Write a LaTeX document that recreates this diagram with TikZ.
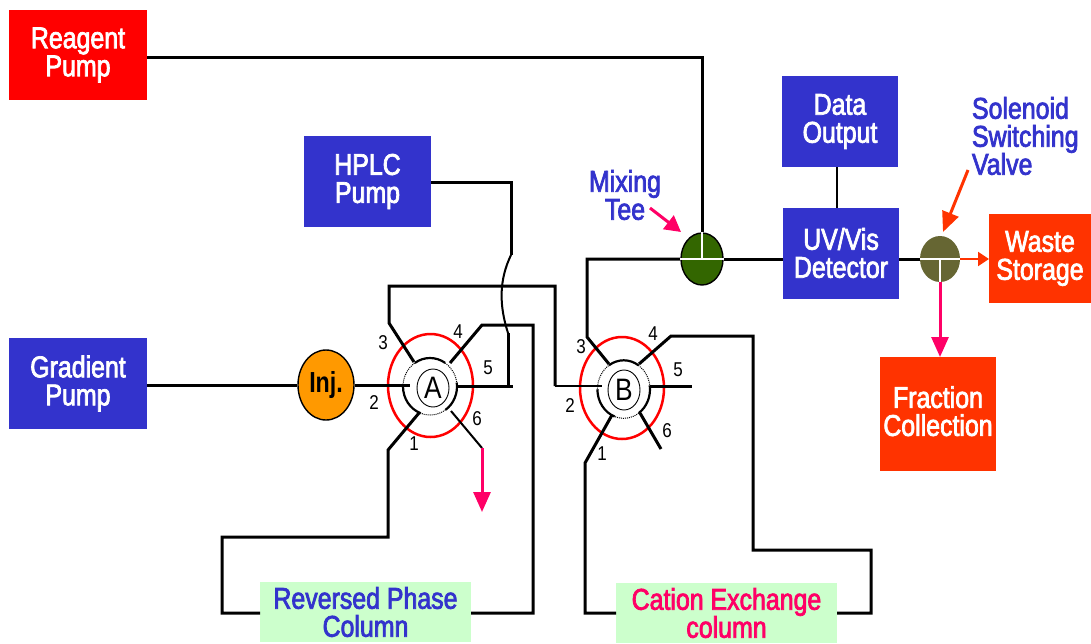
\documentclass[tikz,border=0pt]{standalone}
\usepackage{fontspec}
\setmainfont{Liberation Sans}[FakeStretch=0.83,FakeBold=2.4]
\newfontfamily\numfont{Liberation Sans}[FakeStretch=0.85]
\newfontfamily\boldnar{Liberation Sans Bold}[FakeStretch=0.8]
\usetikzlibrary{arrows.meta,shapes.geometric}
\definecolor{hplcblue}{HTML}{3333CC}
\definecolor{pumpred}{HTML}{FF0000}
\definecolor{wastered}{HTML}{FF3300}
\definecolor{injorange}{HTML}{FF9900}
\definecolor{palegreen}{HTML}{CCFFCC}
\definecolor{hotpink}{HTML}{FF0066}
\definecolor{teegreen}{HTML}{336600}
\definecolor{soleolive}{HTML}{666633}
\tikzset{
  lbl/.style={font=\fontsize{30}{28}\selectfont, align=center, inner sep=0pt, outer sep=0pt},
  bluebox/.style={lbl, fill=hplcblue, text=white, minimum width=116pt, minimum height=91pt},
  redbox/.style={lbl, fill=wastered, text=white},
  colbox/.style={lbl, fill=palegreen, minimum height=60pt},
  port/.style={font=\numfont\fontsize{20}{20}\selectfont, inner sep=0pt},
  pipe/.style={line width=3pt},
  thinpipe/.style={line width=2pt},
  ringarc/.style={line width=2.2pt},
  ringdot/.style={line width=1pt, densely dotted},
  whiteT/.style={draw=white, line width=2.4pt},
  bigarrow/.style={-{Triangle[length=20pt,width=17pt]}}
}
\begin{document}
\begin{tikzpicture}[x=1pt, y=-1pt]
            \useasboundingbox (0,0) rectangle (1091,643);
            \node(Reagent) [lbl, fill=pumpred, text=white, minimum width=138pt, minimum height=90pt] at (78,55) {Reagent\\Pump};
            \node(Gradient) [bluebox, minimum width=138pt, below of=Reagent, node distance=328.5pt] {Gradient\\Pump};
            \node(HPLC) [bluebox, minimum width=127pt] at (367.5,181.5) {HPLC\\Pump};
            \node(UV) [bluebox] at (841,253) {UV/Vis\\Detector};
            \node(Data) [bluebox, xshift=-1pt, above of=UV, node distance=131.5pt] {Data\\Output};
            \node(Waste) [redbox, minimum width=102pt, minimum height=89pt] at (1040,258.5) {Waste\\Storage};
            \node(Fraction) [redbox, minimum width=116pt, minimum height=114pt] at (938,414) {Fraction\\Collection\\[-22pt]};
            \node(RP) [colbox, minimum width=211pt, text=hplcblue] at (365.5,612) {Reversed Phase\\Column};
            \node(CX) [colbox, minimum width=221pt, text=hotpink] at (726.5,613) {Cation Exchange\\column};
            \node(Inj) [ellipse, draw=black, line width=1.4pt, fill=injorange, minimum width=56pt, minimum height=70pt, inner sep=0pt, font=\boldnar\fontsize{29}{29}\selectfont] at (326,385) {Inj.};
            \node(Tee) [ellipse, draw=black, line width=1.4pt, fill=teegreen, minimum width=42pt, minimum height=52pt, inner sep=0pt] at (702,259) {};
            \node(Sole) [ellipse, fill=soleolive, minimum width=40pt, minimum height=46pt, inner sep=0pt] at (940,259) {};
            \node(ValveA) [ellipse, draw=red, line width=2.5pt, minimum width=85pt, minimum height=103pt, inner sep=0pt] at (430.5,385.5) {};
            \node(ValveB) [ellipse, draw=red, line width=2.5pt, minimum width=84pt, minimum height=102pt, inner sep=0pt] at (622,388) {};
            \node(RotorA) [ellipse, draw=black, line width=0.9pt, minimum width=32pt, minimum height=38pt, inner sep=0pt, font=\numfont\fontsize{31}{31}\selectfont] at (433,388) {A};
            \node(RotorB) [ellipse, draw=black, line width=0.9pt, minimum width=32pt, minimum height=40pt, inner sep=0pt, font=\numfont\fontsize{31}{31}\selectfont] at (624,390) {B};
            \node(LabelTee) [lbl, text=hplcblue] at (625,195) {Mixing\\Tee};
            \node(LabelSole) [lbl, text=hplcblue, align=left, anchor=west] at (972,136) {Solenoid\\Switching\\Valve};
            \coordinate(TeeArrow) at (650,208);
            \coordinate(TeeTip) at (681,232);
            \coordinate(SoleArrow) at (968,170);
            \coordinate(SoleTip) at (943,232);
            \coordinate(A1) at (419,413);
            \coordinate(A2) at (410,385);
            \coordinate(A3) at (414,362);
            \coordinate(A4) at (450,363);
            \coordinate(A5) at (457,386);
            \coordinate(A5end) at (513,386);
            \coordinate(A6) at (451,411);
            \coordinate(A6end) at (482,448);
            \coordinate(Drain) at (482,512);
            \coordinate(B1) at (612,415);
            \coordinate(B2) at (602,386);
            \coordinate(B3) at (609,364);
            \coordinate(B4) at (639,364);
            \coordinate(B5) at (650,386);
            \coordinate(B5end) at (692,386);
            \coordinate(B6) at (640,413);
            \coordinate(B6end) at (661,449);
            \coordinate(HumpTop) at (511,255);
            \coordinate(HumpEnd) at (508,333);
            \coordinate(HplcJoin) at (508,386);
            \draw[pipe](Gradient.east |- Inj.west) -- (Inj.west);
            \draw[pipe](Inj.east) -- (A2);
            \draw[pipe](A3) -- (389,323) -- (389,286) -- (555,286) -- (555,386);
            \draw[thinpipe](555,386) -- (B2);
            \draw[pipe](A4) -- (482,325) -- (533,325) -- (533,613) -- (RP.east |- 0,613);
            \draw[pipe](A5) -- (A5end);
            \draw[pipe](A1) -- (388,450) -- (388,537) -- (222,537) -- (222,613) -- (RP.west |- 0,613);
            \draw[thinpipe](A6) -- (A6end);
            \draw[pipe, hotpink, bigarrow](A6end) -- (Drain);
            \draw[pipe](HPLC.east |- 0,182) -- (511,182) -- (HumpTop);
            \draw[thinpipe](HumpTop) .. controls (499,280) and (499,305) .. (HumpEnd);
            \draw[pipe](HumpEnd) -- (HplcJoin);
            \draw[pipe](Reagent.east |- 0,57) -- (702,57) -- (Tee.north);
            \draw[pipe](B3) -- (587,337) -- (587,259) -- (Tee.west);
            \draw[pipe](B4) -- (671,336) -- (753,336) -- (753,550) -- (871,550) -- (871,613) -- (CX.east |- 0,613);
            \draw[pipe](B5) -- (B5end);
            \draw[pipe](B6) -- (B6end);
            \draw[pipe](B1) -- (585,463) -- (585,613) -- (CX.west |- 0,613);
            \draw[pipe](Tee.east) -- (UV.west |- Tee.east);
            \draw[pipe](UV.east |- Sole.west) -- (Sole.west);
            \draw[thinpipe](837,167) -- (837,208);
            \draw[thinpipe, wastered, -{Triangle[length=11pt,width=14pt]}](Sole.east) -- (Waste.west |- Sole.east);
            \draw[pipe, hotpink, bigarrow](Sole.south) -- (Sole.south |- Fraction.north);
            \draw[pipe, hotpink, -{Triangle[length=16pt,width=17pt]}](TeeArrow) -- (TeeTip);
            \draw[pipe, wastered, -{Triangle[length=20pt,width=17pt]}](SoleArrow) -- (SoleTip);
            \draw[whiteT](Tee.west) -- (Tee.east);
            \draw[whiteT](Tee.center) -- (Tee.north);
            \draw[whiteT](Sole.west) -- (Sole.east);
            \draw[whiteT](Sole.center) -- (Sole.south);
            \draw[ringarc](430,386.5) ++(-124:27 and 28.5) arc[start angle=-124, end angle=-56, x radius=27, y radius=28.5];
            \draw[ringarc](430,386.5) ++(-8:27 and 28.5) arc[start angle=-8, end angle=55, x radius=27, y radius=28.5];
            \draw[ringarc](430,386.5) ++(110:27 and 28.5) arc[start angle=110, end angle=180, x radius=27, y radius=28.5];
            \draw[ringdot](430,386.5) ++(-56:27 and 28.5) arc[start angle=-56, end angle=-8, x radius=27, y radius=28.5];
            \draw[ringdot](430,386.5) ++(55:27 and 28.5) arc[start angle=55, end angle=110, x radius=27, y radius=28.5];
            \draw[ringdot](430,386.5) ++(180:27 and 28.5) arc[start angle=180, end angle=236, x radius=27, y radius=28.5];
            \draw[ringarc](623.7,389.3) ++(-124:26.3 and 29) arc[start angle=-124, end angle=-56, x radius=26.3, y radius=29];
            \draw[ringarc](623.7,389.3) ++(-8:26.3 and 29) arc[start angle=-8, end angle=55, x radius=26.3, y radius=29];
            \draw[ringarc](623.7,389.3) ++(110:26.3 and 29) arc[start angle=110, end angle=180, x radius=26.3, y radius=29];
            \draw[ringdot](623.7,389.3) ++(-56:26.3 and 29) arc[start angle=-56, end angle=-8, x radius=26.3, y radius=29];
            \draw[ringdot](623.7,389.3) ++(55:26.3 and 29) arc[start angle=55, end angle=110, x radius=26.3, y radius=29];
            \draw[ringdot](623.7,389.3) ++(180:26.3 and 29) arc[start angle=180, end angle=236, x radius=26.3, y radius=29];
            \node(PA1) [port] at (414,444) {1};
            \node(PA2) [port] at (374,403) {2};
            \node(PA3) [port] at (383,343) {3};
            \node(PA4) [port] at (458,332) {4};
            \node(PA5) [port] at (488,368) {5};
            \node(PA6) [port] at (477,419) {6};
            \node(PB1) [port] at (602,454) {1};
            \node(PB2) [port] at (570,406) {2};
            \node(PB3) [port] at (581,347) {3};
            \node(PB4) [port] at (653,334) {4};
            \node(PB5) [port] at (678,370) {5};
            \node(PB6) [port] at (667,431) {6};
            \end{tikzpicture}
\end{document}
